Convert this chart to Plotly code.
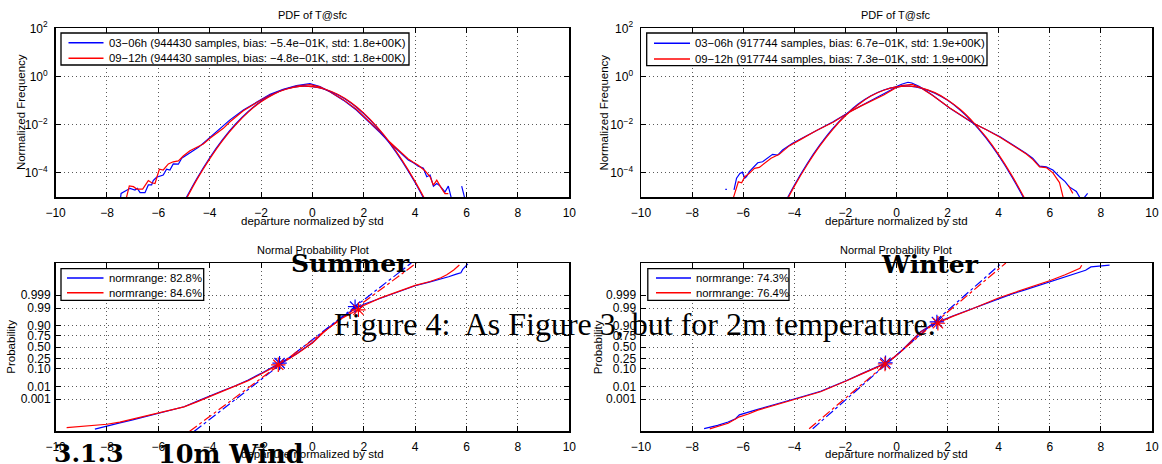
import plotly.graph_objects as go
from statistics import NormalDist

# ---------------- data ----------------
# Top-left PDF (Summer), x = departure / std, y = log10(normalized frequency)
tl_blue_x = [-7.48, -7.45, -7.10, -6.91, -6.82, -6.71, -6.52, -6.39, -6.26, -6.20, -6.07, -5.94, -5.81, -5.68,
             -5.55, -5.42, -5.22, -5.09, -4.90, -4.64, -4.44, -4.25, -3.99, -3.73, -3.47, -3.21, -2.69, -2.17,
             -1.65, -1.14, -0.62, -0.10, 0.29, 0.68, 1.20, 1.71, 2.37, 2.63, 3.01, 3.40, 3.73, 3.93, 4.12, 4.32,
             4.45, 4.58, 4.71, 4.84, 4.97, 5.16, 5.29, 5.42, None, 5.81, 5.94]
tl_blue_log = [-5.10, -4.85, -4.64, -4.71, -4.64, -4.82, -4.82, -4.50, -4.50, -4.32, -4.18, -4.13, -4.09, -3.85,
               -3.88, -3.63, -3.64, -3.39, -3.26, -3.05, -2.94, -2.77, -2.52, -2.29, -2.04, -1.80, -1.39, -1.05,
               -0.74, -0.53, -0.38, -0.30, -0.42, -0.63, -0.98, -1.39, -2.05, -2.33, -2.75, -3.12, -3.46, -3.58,
               -3.72, -3.81, -4.16, -4.09, -4.55, -4.44, -4.55, -4.79, -4.55, -5.10, None, -4.55, -5.10]
tl_red_x = [-7.26, -7.13, -6.97, -6.84, -6.61, -6.39, -6.26, -6.13, -5.96, -5.81, -5.61, -5.42, -5.22, -5.03,
            -4.77, -4.51, -4.25, -3.99, -3.73, -3.47, -3.21, -2.69, -2.17, -1.65, -1.14, -0.62, -0.10, 0.29,
            0.68, 1.20, 1.71, 2.37, 2.63, 3.01, 3.40, 3.73, 3.93, 4.12, 4.38, 4.58, 4.71, 4.84, 5.03, 5.16, 5.29]
tl_red_log = [-5.10, -4.54, -4.57, -4.67, -4.67, -4.32, -4.41, -4.44, -3.85, -3.88, -3.63, -3.54, -3.50, -3.30,
              -3.08, -2.94, -2.80, -2.56, -2.36, -2.15, -1.88, -1.42, -1.08, -0.77, -0.55, -0.40, -0.34, -0.43,
              -0.63, -0.96, -1.36, -2.02, -2.30, -2.72, -3.08, -3.42, -3.56, -3.68, -3.91, -4.16, -4.51, -4.30,
              -4.65, -4.86, -4.86]
tl_gauss_x = [-5.0, -4.5, -4.0, -3.5, -3.0, -2.5, -2.0, -1.5, -1.0, -0.5, 0.0, 0.5, 1.0, 1.5, 2.0, 2.5, 3.0,
              3.5, 4.0, 4.5]
tl_gauss_blue_log = [-5.20, -4.23, -3.37, -2.62, -1.98, -1.45, -1.03, -0.71, -0.51, -0.41, -0.42, -0.54, -0.77,
                     -1.10, -1.55, -2.10, -2.76, -3.53, -4.41, -5.40]
tl_gauss_red_log = [-5.26, -4.28, -3.42, -2.66, -2.02, -1.48, -1.05, -0.73, -0.52, -0.41, -0.42, -0.53, -0.75,
                    -1.08, -1.52, -2.07, -2.72, -3.49, -4.36, -5.34]

# Top-right PDF (Winter)
tr_blue_x = [-6.70, -6.64, None, -6.36, -6.26, -6.13, -6.03, -5.94, -5.87, -5.76, -5.63, -5.43, -5.24, -5.11,
             -4.85, -4.65, -4.46, -4.07, -3.78, -3.13, -2.48, -1.83, -1.40, -0.91, -0.50, -0.20, 0.00, 0.20,
             0.45, 0.60, 0.90, 1.40, 2.09, 2.60, 3.00, 3.50, 4.05, 4.70, 5.08, 5.34, 5.60, 5.86, 6.12, 6.38,
             6.60, 6.75, 7.04, 7.19, None, 7.33, 7.48]
tr_blue_log = [-4.68, -4.68, None, -4.70, -4.22, -4.02, -3.97, -4.22, -4.15, -3.95, -3.81, -3.58, -3.54, -3.44,
               -3.23, -3.26, -3.05, -2.77, -2.61, -2.22, -1.88, -1.46, -1.22, -0.98, -0.75, -0.55, -0.42, -0.32,
               -0.24, -0.27, -0.42, -0.77, -1.32, -1.68, -1.94, -2.20, -2.50, -2.94, -3.19, -3.40, -3.72, -3.75,
               -3.88, -4.16, -4.36, -4.57, -4.77, -5.05, None, -5.05, -4.85]
tr_red_x = [-6.39, -6.19, -6.06, -5.94, -5.76, -5.56, -5.37, -5.17, -4.91, -4.59, -4.20, -3.78, -3.13, -2.48,
            -1.83, -1.40, -0.91, -0.50, -0.20, 0.00, 0.20, 0.45, 0.60, 0.90, 1.40, 2.09, 2.60, 3.00, 3.50, 4.05,
            4.70, 5.08, 5.34, 5.60, 5.86, 6.12, 6.38, 6.46, 6.53, None, 6.72, 6.80, 6.90]
tr_red_log = [-5.05, -4.37, -4.41, -4.16, -4.02, -3.81, -3.77, -3.60, -3.39, -3.23, -2.88, -2.63, -2.24, -1.90,
              -1.47, -1.23, -0.99, -0.77, -0.58, -0.46, -0.38, -0.33, -0.33, -0.44, -0.78, -1.31, -1.66, -1.93,
              -2.20, -2.52, -2.96, -3.22, -3.45, -3.75, -3.78, -4.00, -4.40, -4.71, -5.05, None, -4.50, -4.65,
              -4.85]
tr_gauss_x = [-4.5, -4.0, -3.5, -3.0, -2.5, -2.0, -1.5, -1.0, -0.5, 0.0, 0.5, 1.0, 1.5, 2.0, 2.5, 3.0, 3.5,
              4.0, 4.5, 5.0, 5.5]
tr_gauss_blue_log = [-5.51, -4.51, -3.62, -2.84, -2.16, -1.60, -1.14, -0.80, -0.56, -0.43, -0.40, -0.49, -0.69,
                     -0.99, -1.40, -1.92, -2.55, -3.29, -4.14, -5.09, -6.16]
tr_gauss_red_log = [-5.57, -4.56, -3.67, -2.88, -2.20, -1.63, -1.17, -0.81, -0.57, -0.43, -0.40, -0.48, -0.67,
                    -0.97, -1.37, -1.89, -2.51, -3.24, -4.08, -5.03, -6.09]

# Bottom-left normal probability plot (Summer); y in standard-normal quantile units
bl_blue_x = [-8.47, -8.0, -7.5, -7.0, -6.5, -6.0, -5.5, -5.0, -4.5, -4.0, -3.5, -3.0, -2.5, -2.0, -1.5, -1.0,
             -0.63, 0.0, 0.5, 1.1, 1.66, 2.0, 2.63, 3.0, 3.67, 4.0, 4.58, 5.0, 5.3, 5.6, 5.78, 5.85, 6.05]
bl_blue_z = [-4.87, -4.67, -4.5, -4.32, -4.12, -3.92, -3.74, -3.54, -3.22, -2.89, -2.59, -2.29, -1.95, -1.56,
             -1.15, -0.73, -0.40, 0.28, 1.0, 1.7, 2.3, 2.55, 2.91, 3.12, 3.48, 3.65, 3.88, 4.05, 4.18, 4.34, 4.42,
             4.62, 4.95]
bl_red_x = [-9.57, -8.8, -8.0, -7.5, -7.0, -6.5, -6.0, -5.5, -5.0, -4.5, -4.0, -3.5, -3.0, -2.5, -2.0, -1.5,
            -1.0, -0.63, 0.0, 0.5, 1.1, 1.79, 2.0, 2.63, 3.0, 3.67, 4.0, 4.58, 5.0, 5.23, 5.5, 5.72]
bl_red_z = [-4.78, -4.68, -4.58, -4.45, -4.27, -4.1, -3.94, -3.76, -3.55, -3.25, -2.93, -2.63, -2.33, -1.99,
            -1.6, -1.19, -0.77, -0.42, 0.25, 0.97, 1.67, 2.24, 2.48, 2.91, 3.12, 3.5, 3.67, 3.9, 4.12, 4.3, 4.58,
            4.88]
bl_blue_fit_x = [-4.60, 3.85]
bl_red_fit_x = [-4.78, 4.05]
bl_fit_z = [-5.0, 5.0]
bl_blue_mark_x = [-1.28, 1.66]
bl_blue_mark_z = [-0.95, 2.41]
bl_red_mark_x = [-1.33, 1.79]
bl_red_mark_z = [-1.05, 2.22]

# Bottom-right normal probability plot (Winter)
br_blue_x = [-7.53, -7.0, -6.59, -6.30, -6.15, -5.90, -5.43, -4.80, -4.27, -3.60, -2.97, -2.40, -1.95, -1.40,
             -0.90, -0.43, -0.10, 0.22, 0.60, 0.94, 1.30, 1.58, 2.20, 2.83, 3.40, 3.99, 4.50, 5.00, 5.50, 6.02,
             6.60, 7.18, 7.40, 7.61, 8.34]
br_blue_z = [-4.84, -4.65, -4.45, -4.25, -4.02, -3.92, -3.70, -3.42, -3.17, -2.90, -2.62, -2.28, -1.98, -1.60,
             -1.28, -0.95, -0.60, -0.18, 0.40, 0.91, 1.25, 1.48, 1.85, 2.20, 2.55, 2.89, 3.15, 3.39, 3.63, 3.88,
             4.15, 4.43, 4.57, 4.77, 4.87]
br_red_x = [-7.31, -7.0, -6.59, -6.15, -5.80, -5.43, -4.80, -4.27, -3.60, -2.97, -2.40, -1.95, -1.40, -0.90,
            -0.43, -0.10, 0.22, 0.60, 0.94, 1.30, 1.62, 2.20, 2.83, 3.40, 3.99, 4.50, 5.00, 5.50, 6.02, 6.60,
            7.00, 7.18, 7.25]
br_red_z = [-4.86, -4.72, -4.52, -4.14, -3.97, -3.74, -3.45, -3.20, -2.93, -2.65, -2.30, -2.00, -1.62, -1.30,
            -0.98, -0.62, -0.20, 0.38, 0.89, 1.23, 1.45, 1.83, 2.19, 2.56, 2.92, 3.19, 3.44, 3.70, 3.96, 4.30,
            4.56, 4.68, 4.87]
br_blue_fit_x = [-3.28, 4.12]
br_red_fit_x = [-3.42, 4.28]
br_fit_z = [-4.85, 5.0]
br_blue_mark_x = [-0.43, 1.58]
br_blue_mark_z = [-0.93, 1.50]
br_red_mark_x = [-0.45, 1.62]
br_red_mark_z = [-1.00, 1.42]

# Labels
tl_names = ["03\u221206h (944430 samples, bias: \u22125.4e\u221201K, std: 1.8e+00K)",
            "09\u221212h (944430 samples, bias: \u22124.8e\u221201K, std: 1.8e+00K)"]
tr_names = ["03\u221206h (917744 samples, bias: 6.7e\u221201K, std: 1.9e+00K)",
            "09\u221212h (917744 samples, bias: 7.3e\u221201K, std: 1.9e+00K)"]
bl_names = ["normrange: 82.8%", "normrange: 84.6%"]
br_names = ["normrange: 74.3%", "normrange: 76.4%"]
x_ticks = [-10, -8, -6, -4, -2, 0, 2, 4, 6, 8, 10]
log_tick_vals = [1e-4, 1e-2, 1, 1e2]
log_tick_text = ["10<sup>\u22124</sup>", "10<sup>\u22122</sup>", "10<sup>0</sup>", "10<sup>2</sup>"]
prob_ticks = [0.001, 0.01, 0.10, 0.25, 0.50, 0.75, 0.90, 0.99, 0.999]
prob_tick_text = ["0.001", "0.01", "0.10", "0.25", "0.50", "0.75", "0.90", "0.99", "0.999"]

# ---------------- figure ----------------
W, H = 1162, 464
BLUE, RED = "#0000ff", "#ff0000"
SANS = "Liberation Sans, Arial, sans-serif"


def lin(v):
    return [None if a is None else 10 ** a for a in v]


fig = go.Figure()

# top-left
fig.add_trace(go.Scatter(x=tl_blue_x, y=lin(tl_blue_log), mode="lines", line=dict(color=BLUE, width=1.2),
                         name=tl_names[0], xaxis="x", yaxis="y", connectgaps=False))
fig.add_trace(go.Scatter(x=tl_red_x, y=lin(tl_red_log), mode="lines", line=dict(color=RED, width=1.2),
                         name=tl_names[1], xaxis="x", yaxis="y"))
fig.add_trace(go.Scatter(x=tl_gauss_x, y=lin(tl_gauss_blue_log), mode="lines",
                         line=dict(color=BLUE, width=1.2, shape="spline"), xaxis="x", yaxis="y"))
fig.add_trace(go.Scatter(x=tl_gauss_x, y=lin(tl_gauss_red_log), mode="lines",
                         line=dict(color=RED, width=1.2, shape="spline"), xaxis="x", yaxis="y"))
# top-right
fig.add_trace(go.Scatter(x=tr_blue_x, y=lin(tr_blue_log), mode="lines", line=dict(color=BLUE, width=1.2),
                         name=tr_names[0], xaxis="x2", yaxis="y2", connectgaps=False))
fig.add_trace(go.Scatter(x=tr_red_x, y=lin(tr_red_log), mode="lines", line=dict(color=RED, width=1.2),
                         name=tr_names[1], xaxis="x2", yaxis="y2", connectgaps=False))
fig.add_trace(go.Scatter(x=tr_gauss_x, y=lin(tr_gauss_blue_log), mode="lines",
                         line=dict(color=BLUE, width=1.2, shape="spline"), xaxis="x2", yaxis="y2"))
fig.add_trace(go.Scatter(x=tr_gauss_x, y=lin(tr_gauss_red_log), mode="lines",
                         line=dict(color=RED, width=1.2, shape="spline"), xaxis="x2", yaxis="y2"))

# bottom panels
for (bx, bz, rx, rz, bfx, rfx, fz, bmx, bmz, rmx, rmz, names, xa, ya) in [
    (bl_blue_x, bl_blue_z, bl_red_x, bl_red_z, bl_blue_fit_x, bl_red_fit_x, bl_fit_z,
     bl_blue_mark_x, bl_blue_mark_z, bl_red_mark_x, bl_red_mark_z, bl_names, "x3", "y3"),
    (br_blue_x, br_blue_z, br_red_x, br_red_z, br_blue_fit_x, br_red_fit_x, br_fit_z,
     br_blue_mark_x, br_blue_mark_z, br_red_mark_x, br_red_mark_z, br_names, "x4", "y4"),
]:
    fig.add_trace(go.Scatter(x=bx, y=bz, mode="lines", line=dict(color=BLUE, width=1.2), name=names[0],
                             xaxis=xa, yaxis=ya))
    fig.add_trace(go.Scatter(x=rx, y=rz, mode="lines", line=dict(color=RED, width=1.2), name=names[1],
                             xaxis=xa, yaxis=ya))
    fig.add_trace(go.Scatter(x=bfx, y=fz, mode="lines", line=dict(color=BLUE, width=1.2, dash="dashdot"),
                             xaxis=xa, yaxis=ya))
    fig.add_trace(go.Scatter(x=rfx, y=fz, mode="lines", line=dict(color=RED, width=1.2, dash="dashdot"),
                             xaxis=xa, yaxis=ya))
    fig.add_trace(go.Scatter(x=bmx, y=bmz, mode="markers",
                             marker=dict(symbol="asterisk-open", size=12, color=BLUE,
                                         line=dict(color=BLUE, width=1.2)), xaxis=xa, yaxis=ya))
    fig.add_trace(go.Scatter(x=rmx, y=rmz, mode="markers",
                             marker=dict(symbol="asterisk-open", size=12, color=RED,
                                         line=dict(color=RED, width=1.2)), xaxis=xa, yaxis=ya))

# axes geometry (pixels -> paper)
XL = [55.6 / W, 569.3 / W]
XR = [641.0 / W, 1152.0 / W]
YT = [1 - 197.0 / H, 1 - 28.3 / H]
YB = [1 - 431.3 / H, 1 - 263.0 / H]

axis_common = dict(showline=True, linecolor="black", linewidth=1.5, mirror="allticks", ticks="inside",
                   ticklen=5, tickcolor="black", tickwidth=1, showgrid=True, gridcolor="#5a5a5a",
                   griddash="1px,3px", gridwidth=1, zeroline=False, automargin=False,
                   tickfont=dict(family=SANS, size=12, color="black"))

xcommon = dict(axis_common, range=[-10, 10], tickmode="array", tickvals=x_ticks,
               ticktext=[("\u2212" + str(-t)) if t < 0 else str(t) for t in x_ticks], ticklabelstandoff=4)
logy = dict(axis_common, type="log", range=[-5, 2], tickmode="array", tickvals=log_tick_vals,
            ticktext=log_tick_text, ticklabelstandoff=4)
proby = dict(axis_common, range=[-5, 5], tickmode="array",
             tickvals=[NormalDist().inv_cdf(p) for p in prob_ticks], ticktext=prob_tick_text,
             ticklabelstandoff=1)

annotations = []
shapes = []


def text(x, y, s, size=11, family=SANS, xanchor="center", yanchor="middle", angle=0, weight="normal"):
    annotations.append(dict(x=x / W, y=1 - y / H, xref="paper", yref="paper", text=s, showarrow=False,
                            xanchor=xanchor, yanchor=yanchor, textangle=angle, borderpad=0,
                            font=dict(family=family, size=size, color="black", weight=weight)))


def legend_box(x0, y0, x1, y1, line_x0, line_x1, text_x, rows, names):
    shapes.append(dict(type="rect", xref="paper", yref="paper", x0=x0 / W, x1=x1 / W,
                       y0=1 - y1 / H, y1=1 - y0 / H, fillcolor="white", line=dict(color="black", width=1.3)))
    for ry, nm, col in zip(rows, names, [BLUE, RED]):
        shapes.append(dict(type="line", xref="paper", yref="paper", x0=line_x0 / W, x1=line_x1 / W,
                           y0=1 - ry / H, y1=1 - ry / H, line=dict(color=col, width=1.5)))
        text(text_x, ry, nm, size=11.3, xanchor="left")


legend_box(61, 33, 409, 65, 68.5, 103.5, 108, [42.7, 58.3], tl_names)
legend_box(646.7, 33, 987, 65.7, 654, 690, 694, [43.3, 59.0], tr_names)
legend_box(61, 268.7, 203.7, 300.3, 67, 103.5, 108, [278.0, 292.7], bl_names)
legend_box(647.8, 268.7, 789, 300.3, 656, 691, 695, [278.0, 292.7], br_names)

# MATLAB titles / labels
text(312.5, 15, "PDF of T@sfc")
text(896.5, 15, "PDF of T@sfc")
text(312.5, 250.5, "Normal Probability Plot")
text(896.5, 250.5, "Normal Probability Plot")
text(312.5, 220.5, "departure normalized by std", size=11.5)
text(896.5, 220.5, "departure normalized by std", size=11.5)
text(312.5, 454, "departure normalized by std", size=11.5)
text(896.5, 454, "departure normalized by std", size=11.5)
text(20.5, 112.6, "Normalized Frequency", size=11.5, angle=-90)
text(604, 112.6, "Normalized Frequency", size=11.5, angle=-90)
text(11.5, 347.2, "Probability", size=11.5, angle=-90)
text(598, 347.2, "Probability", size=11.5, angle=-90)

# LaTeX document text overlaid on the figure
SERIF_B = "DejaVu Serif, serif"
SERIF = "Liberation Serif, Times New Roman, serif"
text(290, 263.5, "Summer", size=25, family=SERIF_B, xanchor="left", weight="bold")
text(880, 264.5, "Winter", size=25, family=SERIF_B, xanchor="left", weight="bold")
text(333, 324.0, "Figure 4:  As Figure 3, but for 2m temperature.", size=32, family=SERIF, xanchor="left")
text(53, 453.5, "3.1.3", size=25, family=SERIF_B, xanchor="left", weight="bold")
text(157, 453.5, "10m Wind", size=25.5, family=SERIF_B, xanchor="left", weight="bold")

fig.update_layout(
    width=W, height=H, autosize=False, margin=dict(l=0, r=0, t=0, b=0, pad=0, autoexpand=False),
    paper_bgcolor="white", plot_bgcolor="white", showlegend=False, hovermode=False,
    xaxis=dict(xcommon, domain=XL, anchor="y"),
    yaxis=dict(logy, domain=YT, anchor="x"),
    xaxis2=dict(xcommon, domain=XR, anchor="y2"),
    yaxis2=dict(logy, domain=YT, anchor="x2"),
    xaxis3=dict(xcommon, domain=XL, anchor="y3"),
    yaxis3=dict(proby, domain=YB, anchor="x3"),
    xaxis4=dict(xcommon, domain=XR, anchor="y4"),
    yaxis4=dict(proby, domain=YB, anchor="x4"),
    shapes=shapes,
    annotations=annotations,
    font=dict(family=SANS, color="black"),
)

fig.write_html(
    "out.html",
    config={"displayModeBar": False, "staticPlot": True},
    post_script="document.body.style.margin='0px';document.body.style.padding='0px';"
                "document.documentElement.style.overflow='hidden';",
)
